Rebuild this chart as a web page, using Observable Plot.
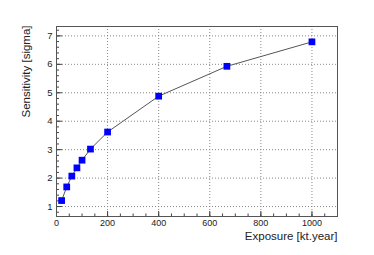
<!DOCTYPE html>
<html>
<head>
<meta charset="utf-8">
<script src="https://cdn.jsdelivr.net/npm/d3@7"></script>
<script src="https://cdn.jsdelivr.net/npm/@observablehq/plot@0.6"></script>
<style>
  html, body { margin: 0; padding: 0; background: #fff; }
  #chart svg { display: block; }
</style>
</head>
<body>
<div id="chart"></div>
<script>
// Data
const exposure = [20, 40, 60, 80, 100, 133, 200, 400, 667, 1000];
const sensitivity = [1.21, 1.69, 2.07, 2.36, 2.63, 3.02, 3.62, 4.88, 5.93, 6.79];

const xMajorTicks = [0, 200, 400, 600, 800, 1000];
const xMinorTicks = d3.range(0, 1101, 50);
const yMajorTicks = [1, 2, 3, 4, 5, 6, 7];
const yMinorTicks = d3.range(0.8, 7.31, 0.2).map(v => +v.toFixed(1));

const xTitle = "Exposure [kt.year]";
const yTitle = "Sensitivity [sigma]";

const data = exposure.map((x, i) => ({x, y: sensitivity[i]}));

const W = 374, H = 255;
const mL = 56, mR = 37, mT = 26, mB = 39;
const pw = W - mL - mR, ph = H - mT - mB;
const font = "Liberation Sans, Arial, Helvetica, sans-serif";
const ink = "#222";

const chart = Plot.plot({
  width: W,
  height: H,
  marginLeft: mL,
  marginRight: mR,
  marginTop: mT,
  marginBottom: mB,
  style: {fontFamily: font, background: "#fff", color: ink},
  x: {domain: [0, 1100]},
  y: {domain: [0.65, 7.33]},
  marks: [
    // dotted grid at major ticks
    Plot.ruleX(xMajorTicks, {x: d => d, stroke: "#888", strokeDasharray: "1,2", strokeWidth: 1}),
    Plot.ruleY(yMajorTicks, {y: d => d, stroke: "#888", strokeDasharray: "1,2", strokeWidth: 1}),
    // inward ticks
    Plot.ruleX(xMinorTicks, {x: d => d, insetTop: ph - 2.5, stroke: "#444"}),
    Plot.ruleX(xMajorTicks, {x: d => d, insetTop: ph - 5, stroke: "#444"}),
    Plot.ruleY(yMinorTicks, {y: d => d, insetRight: pw - 3, stroke: "#444"}),
    Plot.ruleY(yMajorTicks, {y: d => d, insetRight: pw - 6, stroke: "#444"}),
    Plot.frame({stroke: "#555", strokeWidth: 1}),
    // tick labels
    Plot.axisX({ticks: xMajorTicks, tickFormat: d => String(d), tickSize: 0, tickPadding: 3, label: null, fontSize: 9, fill: ink}),
    Plot.axisY({ticks: yMajorTicks, tickFormat: d => String(d), tickSize: 0, tickPadding: 4, label: null, fontSize: 9.5, fill: ink}),
    // axis titles
    Plot.text([xTitle], {text: d => d, frameAnchor: "bottom-right", textAnchor: "end", dy: 23, fontSize: 11.5, fill: ink}),
    Plot.text([yTitle], {text: d => d, frameAnchor: "top-left", textAnchor: "end", rotate: -90, dx: -35, dy: -1, fontSize: 11.5, fill: ink}),
    // data
    Plot.line(data, {x: "x", y: "y", stroke: "#555", strokeWidth: 1}),
    Plot.dot(data, {x: "x", y: "y", symbol: "square", r: 3.8, fill: "#0000ff", stroke: "none"})
  ]
});

document.getElementById("chart").appendChild(chart);
</script>
</body>
</html>
